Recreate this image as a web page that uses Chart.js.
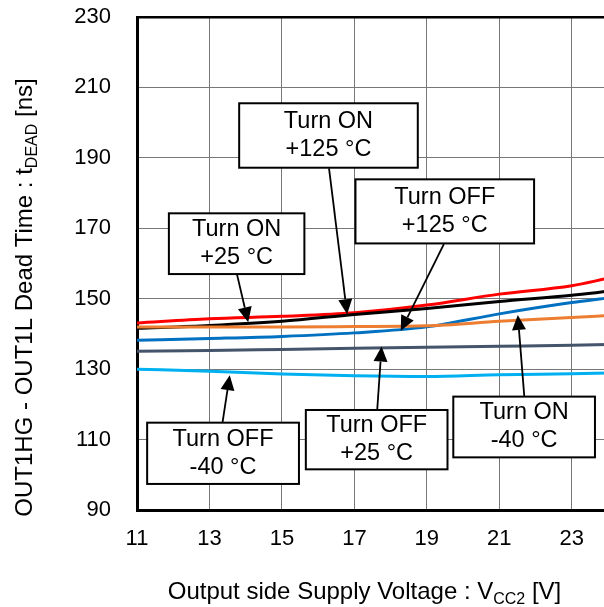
<!DOCTYPE html>
<html><head><meta charset="utf-8">
<script src="https://cdn.jsdelivr.net/npm/chart.js@4.4.1/dist/chart.umd.min.js"></script>
<style>html,body{margin:0;padding:0;overflow:hidden;background:#fff;width:604px;height:607px}canvas{display:block}</style>
</head><body>
<canvas id="c" width="612" height="607"></canvas>
<script>
// ---- data ----
const voltage = [11, 13, 15, 17, 19, 21, 23, 24];
const turnOnHot   = [143.1, 144.3, 145.0, 146.0, 148.2, 151.3, 153.7, 155.8]; // Turn ON +125 °C
const turnOnRoom  = [141.6, 142.4, 143.6, 145.5, 147.2, 149.2, 151.0, 152.1]; // Turn ON +25 °C
const turnOnCold  = [138.2, 138.7, 139.3, 140.3, 142.0, 145.7, 148.9, 150.2]; // Turn ON -40 °C
const turnOffHot  = [142.0, 142.0, 142.0, 142.1, 142.3, 143.6, 144.7, 145.2]; // Turn OFF +125 °C
const turnOffRoom = [135.1, 135.3, 135.6, 135.9, 136.2, 136.5, 136.8, 137.0]; // Turn OFF +25 °C
const turnOffCold = [130.0, 129.4, 128.6, 128.1, 127.9, 128.4, 128.7, 128.9]; // Turn OFF -40 °C
const xTicks = [11, 13, 15, 17, 19, 21, 23];
const yTicks = [90, 110, 130, 150, 170, 190, 210, 230];

// ---- annotation config (data units) ----
const noteText = [
  ["Turn ON", "+125 °C"], ["Turn OFF", "+125 °C"], ["Turn ON", "+25 °C"],
  ["Turn OFF", "-40 °C"], ["Turn OFF", "+25 °C"], ["Turn ON", "-40 °C"]
];
const noteBox = [ // x1, yTop, x2, yBottom
  [13.82, 205.5, 18.75, 187.2], [17.03, 183.9, 21.96, 165.7], [11.88, 174.25, 15.62, 157.0],
  [11.28, 114.8, 15.47, 97.4], [15.66, 118.4, 19.57, 101.55], [19.73, 122.2, 23.64, 104.95]
];
const noteArrow = [ // startX, startY, tipX, tipY
  [16.30, 187.0, 16.80, 145.6], [19.47, 165.5, 18.28, 140.9], [13.76, 156.9, 14.07, 143.3],
  [13.36, 114.8, 13.56, 128.3], [17.63, 118.4, 17.75, 136.4], [21.69, 122.2, 21.51, 145.4]
];

const FONT = "'Liberation Sans', Arial, sans-serif";

function series(vals, color) {
  return {
    data: voltage.map((v, i) => ({x: v, y: vals[i]})),
    borderColor: color, backgroundColor: color, borderWidth: 3,
    pointRadius: 0, cubicInterpolationMode: 'monotone', fill: false
  };
}

const notesPlugin = {
  id: 'notes',
  afterDatasetsDraw(chart) {
    const {ctx, scales: {x, y}} = chart;
    ctx.save();
    noteArrow.forEach(a => {
      const sx = x.getPixelForValue(a[0]), sy = y.getPixelForValue(a[1]);
      const tx = x.getPixelForValue(a[2]), ty = y.getPixelForValue(a[3]);
      const ang = Math.atan2(ty - sy, tx - sx);
      const L = 15, W = 7;
      const bx = tx - L * Math.cos(ang), by = ty - L * Math.sin(ang);
      ctx.strokeStyle = '#000'; ctx.lineWidth = 1.8;
      ctx.beginPath(); ctx.moveTo(sx, sy); ctx.lineTo(bx, by); ctx.stroke();
      ctx.fillStyle = '#000';
      ctx.beginPath();
      ctx.moveTo(tx, ty);
      ctx.lineTo(bx + W * Math.sin(ang), by - W * Math.cos(ang));
      ctx.lineTo(bx - W * Math.sin(ang), by + W * Math.cos(ang));
      ctx.closePath(); ctx.fill();
    });
    noteBox.forEach((b, i) => {
      const x1 = x.getPixelForValue(b[0]), x2 = x.getPixelForValue(b[2]);
      const y1 = y.getPixelForValue(b[1]), y2 = y.getPixelForValue(b[3]);
      ctx.fillStyle = '#fff';
      ctx.fillRect(x1, y1, x2 - x1, y2 - y1);
      ctx.strokeStyle = '#000'; ctx.lineWidth = 2;
      ctx.strokeRect(x1, y1, x2 - x1, y2 - y1);
      ctx.fillStyle = '#000';
      ctx.font = '23.5px ' + FONT;
      ctx.textAlign = 'center'; ctx.textBaseline = 'middle';
      const cx = (x1 + x2) / 2, cy = (y1 + y2) / 2;
      ctx.fillText(noteText[i][0], cx, cy - 14);
      ctx.fillText(noteText[i][1], cx, cy + 14);
    });
    ctx.restore();
  },
  afterDraw(chart) {
    const ctx = chart.ctx;
    ctx.save();
    ctx.fillStyle = '#000';
    ctx.textBaseline = 'alphabetic';
    ctx.textAlign = 'left';
    function subTitle(parts, cx, baseY) {
      const big = '24px ' + FONT, small = '16px ' + FONT;
      ctx.font = big; const w1 = ctx.measureText(parts[0]).width;
      const w3 = ctx.measureText(parts[2]).width;
      ctx.font = small; const w2 = ctx.measureText(parts[1]).width;
      const sx = cx - (w1 + w2 + w3) / 2;
      ctx.font = big; ctx.fillText(parts[0], sx, baseY);
      ctx.font = small; ctx.fillText(parts[1], sx + w1, baseY + 5);
      ctx.font = big; ctx.fillText(parts[2], sx + w1 + w2, baseY);
    }
    subTitle(["Output side Supply Voltage : V", "CC2", " [V]"], 364.5, 598.5);
    ctx.translate(32, 297.5);
    ctx.rotate(-Math.PI / 2);
    subTitle(["OUT1HG - OUT1L Dead Time : t", "DEAD", " [ns]"], 0, 0);
    ctx.restore();
  }
};

new Chart(document.getElementById('c'), {
  type: 'line',
  data: {
    datasets: [
      series(turnOffHot, '#ED7D31'),
      series(turnOnRoom, '#000000'),
      series(turnOnHot, '#FF0000'),
      series(turnOnCold, '#0070C0'),
      series(turnOffRoom, '#44546A'),
      series(turnOffCold, '#00B0F0')
    ]
  },
  options: {
    responsive: false, animation: false, devicePixelRatio: 1,
    layout: {padding: {top: 17, right: 4, left: 0, bottom: 0}},
    plugins: {legend: {display: false}, tooltip: {enabled: false}},
    scales: {
      x: {
        type: 'linear', min: 11, max: 24,
        afterFit: s => { s.height = 97; s.paddingLeft = 0; s.paddingRight = 0; },
        afterBuildTicks: s => { s.ticks = xTicks.map(v => ({value: v})); },
        ticks: {font: {size: 22, family: FONT}, color: '#000', padding: 16, autoSkip: false, maxRotation: 0},
        grid: {color: '#777', lineWidth: 1, drawTicks: false},
        border: {color: '#000', width: 3}
      },
      y: {
        type: 'linear', min: 90, max: 230,
        afterFit: s => { s.width = 137; s.paddingTop = 0; s.paddingBottom = 0; },
        afterBuildTicks: s => { s.ticks = yTicks.map(v => ({value: v})); },
        ticks: {font: {size: 22, family: FONT}, color: '#000', padding: 26},
        grid: {
          color: c => c.tick && c.tick.value === 230 ? '#000' : '#777',
          lineWidth: c => c.tick && c.tick.value === 230 ? 2.5 : 1,
          drawTicks: false
        },
        border: {color: '#000', width: 3}
      }
    }
  },
  plugins: [notesPlugin]
});
</script>
</body></html>
